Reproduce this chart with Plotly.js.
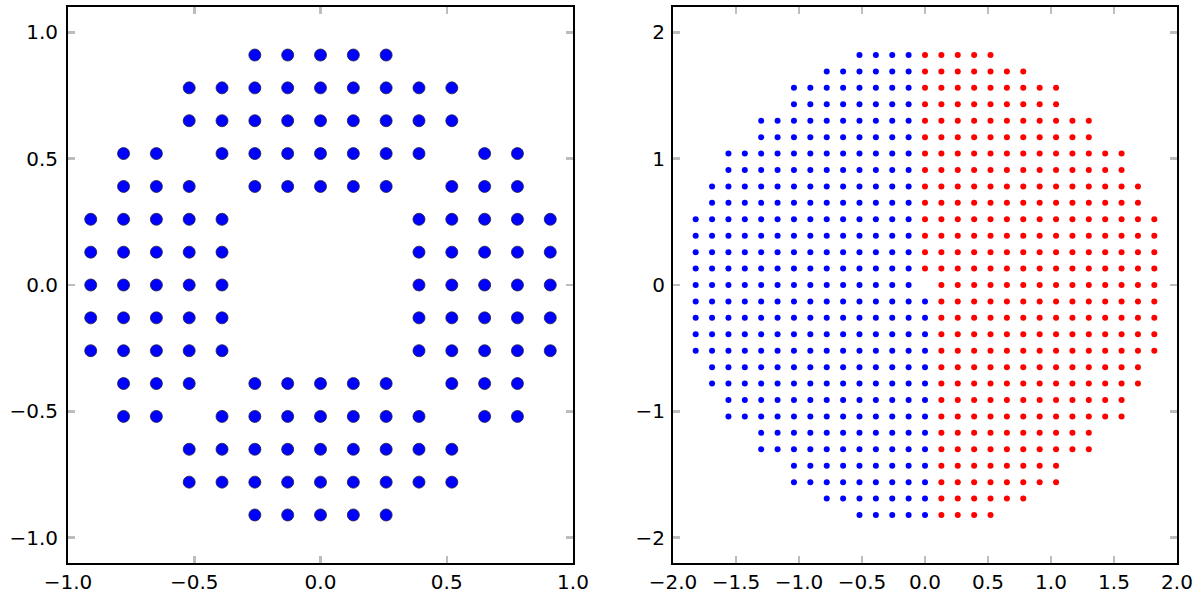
<!DOCTYPE html>
<html>
<head>
<meta charset="utf-8">
<script src="https://cdn.plot.ly/plotly-3.0.1.min.js"></script>
<style>
  html, body { margin: 0; padding: 0; background: #fff; }
  #plot { width: 1200px; height: 599px; }
</style>
</head>
<body>
<div id="plot"></div>
<script>
// left panel: grid values and which column indices are filled in each row (top row first)
const leftGrid = [-0.91, -0.78, -0.65, -0.52, -0.39, -0.26, -0.13, 0, 0.13, 0.26, 0.39, 0.52, 0.65, 0.78, 0.91];
const leftRows = [
    [5, 6, 7, 8, 9],
    [3, 4, 5, 6, 7, 8, 9, 10, 11],
    [3, 4, 5, 6, 7, 8, 9, 10, 11],
    [1, 2, 4, 5, 6, 7, 8, 9, 10, 12, 13],
    [1, 2, 3, 5, 6, 7, 8, 9, 11, 12, 13],
    [0, 1, 2, 3, 4, 10, 11, 12, 13, 14],
    [0, 1, 2, 3, 4, 10, 11, 12, 13, 14],
    [0, 1, 2, 3, 4, 10, 11, 12, 13, 14],
    [0, 1, 2, 3, 4, 10, 11, 12, 13, 14],
    [0, 1, 2, 3, 4, 10, 11, 12, 13, 14],
    [1, 2, 3, 5, 6, 7, 8, 9, 11, 12, 13],
    [1, 2, 4, 5, 6, 7, 8, 9, 10, 12, 13],
    [3, 4, 5, 6, 7, 8, 9, 10, 11],
    [3, 4, 5, 6, 7, 8, 9, 10, 11],
    [5, 6, 7, 8, 9]
];

// right panel: grid values and, per row (top first), how many columns each side of centre are filled
const rightGrid = [-1.82, -1.69, -1.56, -1.43, -1.30, -1.17, -1.04, -0.91, -0.78, -0.65, -0.52, -0.39, -0.26, -0.13, 0,
                   0.13, 0.26, 0.39, 0.52, 0.65, 0.78, 0.91, 1.04, 1.17, 1.30, 1.43, 1.56, 1.69, 1.82];
const rightReach = [4, 6, 8, 8, 10, 10, 12, 12, 13, 13, 14, 14, 14, 14, 14, 14, 14, 14, 14, 13, 13, 12, 12, 10, 10, 8, 8, 6, 4];
const rightMissing = [0, 0];

const leftX = [], leftY = [];
leftRows.forEach((cols, r) => {
    const y = leftGrid[leftGrid.length - 1 - r];
    cols.forEach(c => { leftX.push(leftGrid[c]); leftY.push(y); });
});

const blue = { x: [], y: [] }, red = { x: [], y: [] };
const mid = (rightGrid.length - 1) / 2;
rightReach.forEach((reach, r) => {
    const y = rightGrid[rightGrid.length - 1 - r];
    for (let c = mid - reach; c <= mid + reach; c++) {
        const x = rightGrid[c];
        if (x === rightMissing[0] && y === rightMissing[1]) continue;
        const side = (x < 0 || (x === 0 && y < 0)) ? blue : red;
        side.x.push(x); side.y.push(y);
    }
});

const traces = [
    { type: 'scatter', mode: 'markers', x: leftX, y: leftY, xaxis: 'x', yaxis: 'y',
      marker: { size: 12, color: '#0000ff', line: { width: 0.8, color: '#202040' } }, hoverinfo: 'none' },
    { type: 'scatter', mode: 'markers', x: blue.x, y: blue.y, xaxis: 'x2', yaxis: 'y2',
      marker: { size: 6, color: '#0000ff' }, hoverinfo: 'none' },
    { type: 'scatter', mode: 'markers', x: red.x, y: red.y, xaxis: 'x2', yaxis: 'y2',
      marker: { size: 6, color: '#ff0000' }, hoverinfo: 'none' }
];

const axisStyle = {
    showgrid: false, zeroline: false, showline: true, linecolor: '#000', linewidth: 2, mirror: 'ticks',
    ticks: 'inside', ticklen: 7, tickwidth: 2.5, tickcolor: '#bdbdbd',
    tickfont: { family: 'DejaVu Sans', size: 20, color: '#000' }
};

const layout = {
    width: 1200, height: 599,
    showlegend: false,
    paper_bgcolor: '#fff', plot_bgcolor: '#fff',
    margin: { l: 0, r: 0, t: 7, b: 36 },
    xaxis: { ...axisStyle, domain: [68 / 1200, 573 / 1200], range: [-1, 1],
             tickvals: [-1, -0.5, 0, 0.5, 1], ticktext: ['\u22121.0', '\u22120.5', '0.0', '0.5', '1.0'] },
    yaxis: { ...axisStyle, range: [-1.1, 1.1], ticklabelstandoff: 4,
             tickvals: [-1, -0.5, 0, 0.5, 1], ticktext: ['\u22121.0', '\u22120.5', '0.0', '0.5', '1.0'] },
    xaxis2: { ...axisStyle, domain: [673 / 1200, 1177 / 1200], range: [-2, 2], anchor: 'y2',
              tickvals: [-2, -1.5, -1, -0.5, 0, 0.5, 1, 1.5, 2],
              ticktext: ['\u22122.0', '\u22121.5', '\u22121.0', '\u22120.5', '0.0', '0.5', '1.0', '1.5', '2.0'] },
    yaxis2: { ...axisStyle, range: [-2.2, 2.2], anchor: 'x2', ticklabelstandoff: 2,
              tickvals: [-2, -1, 0, 1, 2], ticktext: ['\u22122', '\u22121', '0', '1', '2'] }
};

Plotly.newPlot('plot', traces, layout, { staticPlot: true });
</script>
</body>
</html>
